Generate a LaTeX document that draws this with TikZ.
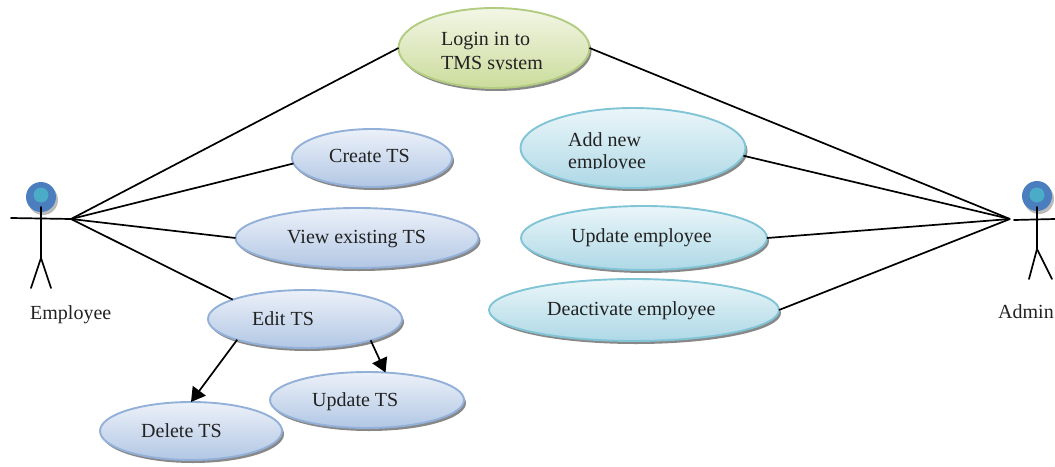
\documentclass[tikz,border=0pt]{standalone}
\usepackage{fontspec}
\setmainfont{Liberation Serif}
\usetikzlibrary{shapes.geometric,shadows,arrows.meta}
\definecolor{txt}{HTML}{222222}
\tikzset{
  uc/.style={ellipse,inner sep=0pt,outer sep=0pt,line width=1.9pt,
    drop shadow={shadow xshift=2pt,shadow yshift=-3pt,fill=black!55,opacity=.85}},
  ucblue/.style={uc,draw={rgb,255:red,146;green,176;blue,216},top color={rgb,255:red,236;green,241;blue,249},bottom color={rgb,255:red,178;green,199;blue,228}},
  ucteal/.style={uc,draw={rgb,255:red,128;green,196;blue,214},top color={rgb,255:red,234;green,246;blue,249},bottom color={rgb,255:red,174;green,216;blue,230}},
  ucgreen/.style={uc,draw={rgb,255:red,178;green,204;blue,130},top color={rgb,255:red,243;green,246;blue,230},bottom color={rgb,255:red,203;green,220;blue,155}},
  lbl/.style={anchor=base west,inner sep=0pt,text=txt,font=\fontsize{20}{20}\selectfont},
  conn/.style={line width=1.7pt,black},
  arr/.style={conn,-{Triangle[length=14pt,width=16pt]}},
  stick/.style={line width=1.7pt,black,line cap=round},
  headout/.style={circle,inner sep=0pt,minimum size=30pt,fill={rgb,255:red,74;green,126;blue,190},
    drop shadow={shadow xshift=2pt,shadow yshift=-3pt,fill=black!45,opacity=.6}},
  headin/.style={circle,inner sep=0pt,minimum size=15pt,fill={rgb,255:red,74;green,172;blue,198}}
}
\begin{document}
\begin{tikzpicture}[x=1pt,y=-1pt]
\useasboundingbox (0,0) rectangle (1055,466);
% use cases
\node[ucgreen,minimum width=191pt,minimum height=80pt] (login) at (494,48) {};
\node[ucblue,minimum width=160pt,minimum height=58pt] (create) at (372,158) {};
\node[ucblue,minimum width=243pt,minimum height=60pt] (view) at (357,238) {};
\node[ucblue,minimum width=194pt,minimum height=58pt] (edit) at (305,319) {};
\node[ucblue,minimum width=194pt,minimum height=56pt] (updts) at (367,400) {};
\node[ucblue,minimum width=182pt,minimum height=58pt] (delts) at (191,431) {};
\node[ucteal,minimum width=225pt,minimum height=80pt] (addemp) at (633,148) {};
\node[ucteal,minimum width=246pt,minimum height=64pt] (updemp) at (644,238) {};
\node[ucteal,minimum width=290pt,minimum height=62pt] (deact) at (634,310) {};
% labels
\node[lbl] (tlogin) at (441,45) {Login in to};
\begin{scope}
\clip (430,50) rectangle (560,69.5);
\node[lbl] (tlogintwo) at (441,69) {TMS system};
\end{scope}
\node[lbl] (tcreate) at (329,162) {Create TS};
\node[lbl] (tview) at (287,243) {View existing TS};
\node[lbl] (tedit) at (252,325) {Edit TS};
\node[lbl] (tupd) at (312,406) {Update TS};
\node[lbl] (tdel) at (141,437) {Delete TS};
\node[lbl] (tadd) at (568,146) {Add new};
\begin{scope}
\clip (560,150) rectangle (660,168.5);
\node[lbl] (taddtwo) at (568,168) {employee};
\end{scope}
\node[lbl] (tupde) at (571,242) {Update employee};
\node[lbl] (tdeact) at (547,315) {Deactivate employee};
\node[lbl] (templ) at (30,319) {Employee};
\node[lbl] (tadm) at (998,318) {Admin};
% employee actor
\node[headout] (ehead) at (41,197) {};
\node[headin] (eheadin) at (41,195) {};
\coordinate (ehandl) at (11,218);
\coordinate (ehand) at (71,219);
\coordinate (eneck) at (41,207);
\coordinate (ehip) at (41,258);
\coordinate (elegl) at (31,288);
\coordinate (elegr) at (51,288);
\draw[stick] (ehandl) -- (ehand);
\draw[stick] (eneck) -- (ehip) -- (elegl);
\draw[stick] (ehip) -- (elegr);
% admin actor
\node[headout] (ahead) at (1037,196) {};
\node[headin] (aheadin) at (1037,195) {};
\coordinate (ahandl) at (1014,220);
\coordinate (ahandr) at (1055,219);
\coordinate (ahand) at (1010,219);
\coordinate (aneck) at (1037,207);
\coordinate (ahip) at (1037,249);
\coordinate (alegl) at (1029,279);
\coordinate (alegr) at (1052,279);
\draw[stick] (ahandl) -- (ahandr);
\draw[stick] (aneck) -- (ahip) -- (alegl);
\draw[stick] (ahip) -- (alegr);
% connectors
\draw[conn] (ehand) -- (login.180);
\draw[conn] (ehand) -- (create.184);
\draw[conn] (ehand) -- (view.180);
\draw[conn] (ehand) -- (edit.165);
\draw[conn] (ahand) -- (login.0);
\draw[conn] (ahand) -- (addemp.-4);
\draw[conn] (ahand) -- (updemp.0);
\draw[conn] (ahand) -- (deact.0);
\draw[arr] (edit.197.5) -- (delts.90);
\draw[arr] (edit.-18) -- (updts.56);
\end{tikzpicture}
\end{document}
